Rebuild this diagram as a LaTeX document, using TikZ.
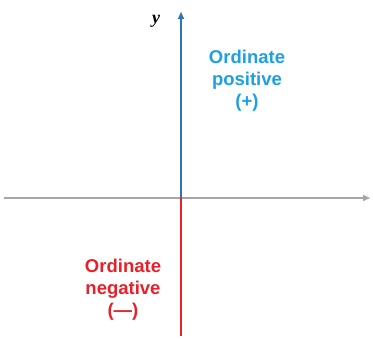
\documentclass[tikz,border=0pt]{standalone}
\usepackage{fontspec}
\setmainfont{Liberation Sans}
\newfontfamily\yfont{Liberation Serif}
\usetikzlibrary{arrows.meta}
\definecolor{axisgray}{HTML}{A6A6A6}
\definecolor{posblue}{HTML}{2E75B6}
\definecolor{postext}{HTML}{1FA0E0}
\definecolor{negred}{HTML}{E8202A}

\begin{document}
\begin{tikzpicture}[
		x=1pt, y=-1pt,
		line width=2.6pt,
		label/.style={font=\bfseries\fontsize{18.5}{22}\selectfont, align=center}
		]
		\useasboundingbox (0,0) rectangle (373,339);
		
		% origin and axis ends
		\coordinate (O) at (181,198);
		\coordinate (xl) at (4,198);
		\coordinate (xr) at (371,198);
		\coordinate (yt) at (181,11);
		\coordinate (yb) at (181,336);
		
		% horizontal axis
		\draw[axisgray, -{Latex[length=8pt,width=7pt]}] (xl) -- (xr);
		
		% ordinate, positive and negative parts
		\draw[posblue, -{Latex[length=8pt,width=7pt]}] (O) -- (yt);
		\draw[negred] (O) -- (yb);
		
		\node[font=\yfont\bfseries\itshape\fontsize{18}{18}\selectfont] (ylab) at (156,21) {y};
		
		\node[label, text=postext] (pos) at (247,81) {Ordinate\\positive\\(+)};
		\node[label, text=negred] (neg) at (123,290) {Ordinate\\negative\\(---)};
		
	\end{tikzpicture}
\end{document}
